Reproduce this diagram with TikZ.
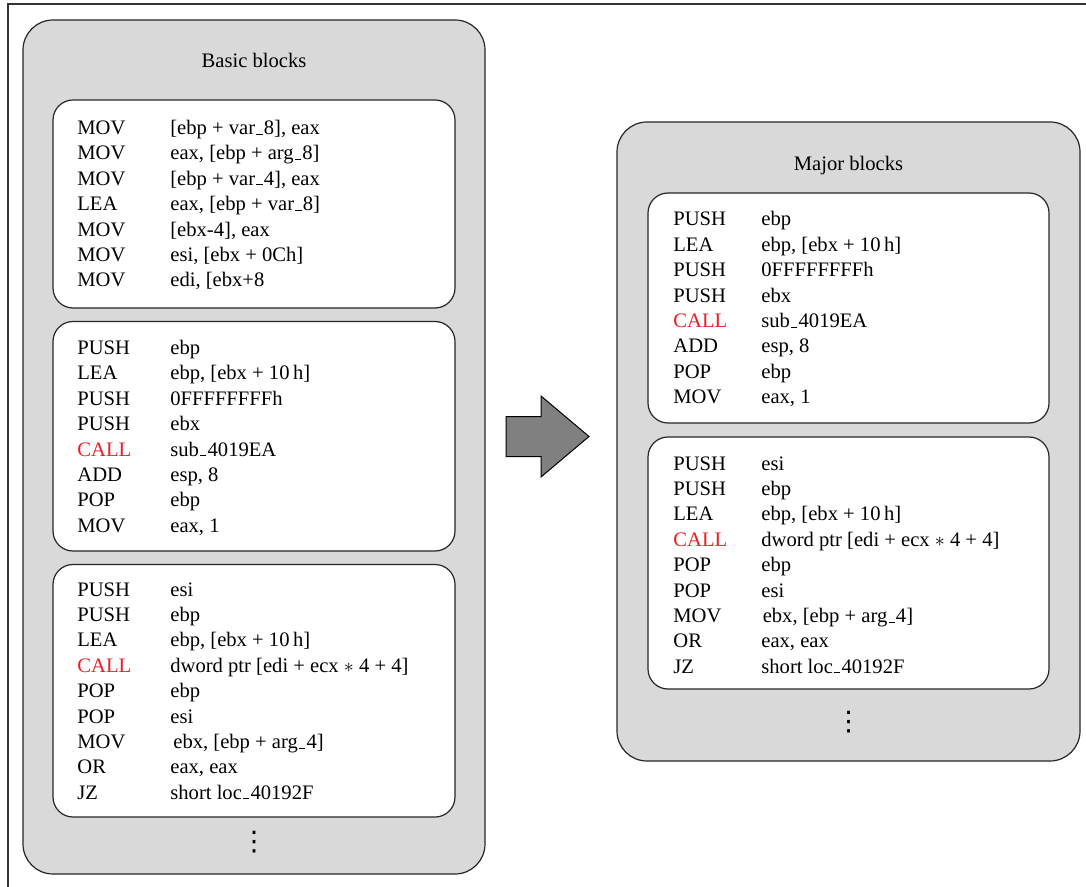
\documentclass[tikz,border=0pt]{standalone}
\usepackage{fontspec}
\setmainfont{Liberation Serif}
\newfontfamily\dotsfont{DejaVu Sans}
\usepackage{xcolor}

\definecolor{boxgray}{RGB}{217,217,217}
\definecolor{arrowgray}{RGB}{128,128,128}
\definecolor{callred}{RGB}{237,28,36}
\newcommand{\codefont}{\fontsize{10.3}{12.7}\selectfont}
\newcommand{\callop}{\textcolor{callred}{CALL}}
\newcommand{\us}{\kern0.06em\rule{0.3em}{0.45pt}\kern0.06em}

\begin{document}
\begin{tikzpicture}[
    x=0.5pt, y=-0.5pt,
    outerbox/.style={draw=black!85, line width=0.6pt, fill=boxgray,
                     rounded corners=15pt, inner sep=0pt},
    codebox/.style={draw=black!85, line width=0.6pt, fill=white,
                    rounded corners=10pt, inner sep=0pt},
    title/.style={anchor=base, inner sep=0pt, font=\codefont},
    code/.style={anchor=base west, inner sep=0pt, font=\codefont},
    more/.style={inner sep=0pt, font=\dotsfont\fontsize{13.5}{14}\selectfont},
    frame/.style={draw=black!80, line width=0.7pt},
    bigarrow/.style={draw=black, line width=0.5pt, fill=arrowgray}
  ]
  \useasboundingbox (0,0) rectangle (1086,887);
  % Rahmen
  \draw[frame] (1086,4) -- (8,4) -- (8,887);

  % Basic blocks
  \node[outerbox, minimum width=231pt, minimum height=427pt] (basic) at (254,447) {};
  \node[title] (basictitle) at (254,68) {Basic blocks};
  \node[codebox, minimum width=201pt, minimum height=104pt] (bb1) at (254,204) {};
  \node[codebox, minimum width=201pt, minimum height=114.75pt] (bb2) at (254,436.25) {};
  \node[codebox, minimum width=201pt, minimum height=126.25pt] (bb3) at (254,690.75) {};
  \node[code] (bb1code) at (77,134.5) {\begin{tabular}[t]{@{}p{46.5pt}@{}l@{}}
    MOV & [ebp + var\us8], eax\\
    MOV & eax, [ebp + arg\us8]\\
    MOV & [ebp + var\us4], eax\\
    LEA & eax, [ebp + var\us8]\\
    MOV & [ebx-4], eax\\
    MOV & esi, [ebx + 0Ch]\\
    MOV & edi, [ebx+8
  \end{tabular}};
  \node[code] (bb2code) at (77,354.5) {\begin{tabular}[t]{@{}p{46.5pt}@{}l@{}}
    PUSH & ebp\\
    LEA & ebp, [ebx + 10\,h]\\
    PUSH & 0FFFFFFFFh\\
    PUSH & ebx\\
    \callop & sub\us4019EA\\
    ADD & esp, 8\\
    POP & ebp\\
    MOV & eax, 1
  \end{tabular}};
  \node[code] (bb3code) at (77,596) {\begin{tabular}[t]{@{}p{46.5pt}@{}l@{}}
    PUSH & esi\\
    PUSH & ebp\\
    LEA & ebp, [ebx + 10\,h]\\
    \callop & dword ptr [edi + ecx $\ast$ 4 + 4]\\
    POP & ebp\\
    POP & esi\\
    MOV & \hspace{1.5pt}ebx, [ebp + arg\us4]\\
    OR & eax, eax\\
    JZ & short loc\us40192F
  \end{tabular}};
  \node[more] (basicmore) at (254,842.5) {⋮};

  % Pfeil
  \draw[bigarrow] (506,416.5) -- (541,416.5) -- (541,396) -- (589,436.5)
    -- (541,477) -- (541,456.5) -- (506,456.5) -- cycle;

  % Major blocks
  \node[outerbox, minimum width=231.5pt, minimum height=319.5pt] (major) at (848.5,441.5) {};
  \node[title] (majortitle) at (848.5,171) {Major blocks};
  \node[codebox, minimum width=200.5pt, minimum height=115pt] (mb1) at (848.5,308) {};
  \node[codebox, minimum width=200.5pt, minimum height=126pt] (mb2) at (848.5,563) {};
  \node[code] (mb1code) at (673,226) {\begin{tabular}[t]{@{}p{44pt}@{}l@{}}
    PUSH & ebp\\
    LEA & ebp, [ebx + 10\,h]\\
    PUSH & 0FFFFFFFFh\\
    PUSH & ebx\\
    \callop & sub\us4019EA\\
    ADD & esp, 8\\
    POP & ebp\\
    MOV & eax, 1
  \end{tabular}};
  \node[code] (mb2code) at (673,470) {\begin{tabular}[t]{@{}p{44pt}@{}l@{}}
    PUSH & esi\\
    PUSH & ebp\\
    LEA & ebp, [ebx + 10\,h]\\
    \callop & dword ptr [edi + ecx $\ast$ 4 + 4]\\
    POP & ebp\\
    POP & esi\\
    MOV & \hspace{0.7pt}ebx, [ebp + arg\us4]\\
    OR & eax, eax\\
    JZ & short loc\us40192F
  \end{tabular}};
  \node[more] (majormore) at (848.5,722) {⋮};
\end{tikzpicture}
\end{document}
